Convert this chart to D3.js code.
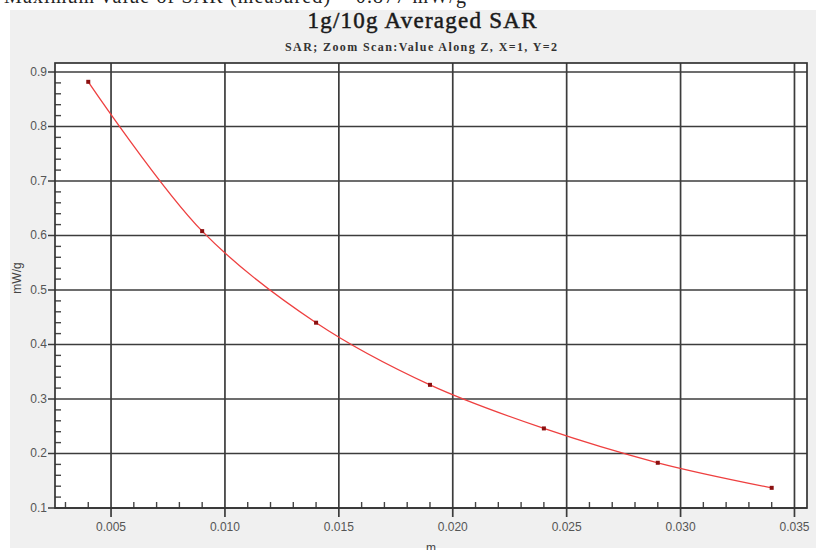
<!DOCTYPE html>
<html>
<head>
<meta charset="utf-8">
<script src="https://cdn.jsdelivr.net/npm/d3@7"></script>
<style>
  html, body { margin: 0; padding: 0; background: #fff; }
  svg { display: block; }
</style>
</head>
<body>
<div id="chart"></div>
<script>
// measured SAR along Z
var depth = [0.004, 0.009, 0.014, 0.019, 0.024, 0.029, 0.034];
var sar = [0.882, 0.608, 0.440, 0.326, 0.246, 0.183, 0.137];
var xTicks = [0.005, 0.010, 0.015, 0.020, 0.025, 0.030, 0.035];
var yTicks = [0.1, 0.2, 0.3, 0.4, 0.5, 0.6, 0.7, 0.8, 0.9];

var width = 822, height = 550;
var margin = {top: 63, right: 15, bottom: 42, left: 55};

var svg = d3.select('#chart').append('svg')
  .attr('width', width)
  .attr('height', height);

// grey panel
svg.append('rect')
  .attr('x', 10).attr('y', 10)
  .attr('width', 806).attr('height', 538)
  .attr('fill', '#f0f0f0');

// header text, cut off at the top
svg.append('text')
  .attr('x', 4).attr('y', 3)
  .attr('font-family', 'Liberation Serif, Times New Roman, serif')
  .attr('font-size', 20)
  .attr('fill', '#222')
  .attr('textLength', 462)
  .text('Maximum value of SAR (measured) = 0.877 mW/g');

var xScale = d3.scaleLinear().domain([0.00254, 0.03555]).range([margin.left, width - margin.right]),
  yScale = d3.scaleLinear().domain([0.1, 0.9165]).range([height - margin.bottom, margin.top]);

var x0 = margin.left, x1 = width - margin.right,
  y0 = height - margin.bottom, y1 = margin.top;

svg.append('rect')
  .attr('x', x0).attr('y', y1)
  .attr('width', x1 - x0).attr('height', y0 - y1)
  .attr('fill', '#fff');

// title
svg.append('text')
  .attr('x', 422).attr('y', 28)
  .attr('text-anchor', 'middle')
  .attr('font-family', 'Liberation Serif, Times New Roman, serif')
  .attr('font-size', 23)
  .attr('fill', '#1a1a1a')
  .attr('stroke', '#1a1a1a')
  .attr('stroke-width', 0.5)
  .attr('textLength', 229)
  .text('1g/10g Averaged SAR');

svg.append('text')
  .attr('x', 421).attr('y', 51)
  .attr('text-anchor', 'middle')
  .attr('font-family', 'Liberation Serif, Times New Roman, serif')
  .attr('font-size', 12)
  .attr('font-weight', 'bold')
  .attr('fill', '#333')
  .attr('textLength', 272)
  .text('SAR; Zoom Scan:Value Along Z, X=1, Y=2');

var grid = svg.append('g').attr('stroke', '#3c3c3c').attr('stroke-width', 1.7);

grid.selectAll('.vg').data(xTicks).enter().append('line')
  .attr('x1', function(d){ return xScale(d); })
  .attr('x2', function(d){ return xScale(d); })
  .attr('y1', y1).attr('y2', y0 + 9);

grid.selectAll('.hg').data(yTicks).enter().append('line')
  .attr('y1', function(d){ return yScale(d); })
  .attr('y2', function(d){ return yScale(d); })
  .attr('x1', x0 - 7).attr('x2', x1);

// minor ticks
var xMinor = d3.range(3, 36).map(function(i){ return i / 1000; })
  .filter(function(d){ return Math.round(d * 1000) % 5 !== 0; });
var yMinor = d3.range(6, 46).map(function(i){ return i / 50; })
  .filter(function(d){ return Math.round(d * 50) % 5 !== 0; });

var minor = svg.append('g').attr('stroke', '#444').attr('stroke-width', 1.4);
minor.selectAll('.xm').data(xMinor).enter().append('line')
  .attr('x1', function(d){ return xScale(d); })
  .attr('x2', function(d){ return xScale(d); })
  .attr('y1', y0).attr('y2', y0 - 6);
minor.selectAll('.ym').data(yMinor).enter().append('line')
  .attr('y1', function(d){ return yScale(d); })
  .attr('y2', function(d){ return yScale(d); })
  .attr('x1', x0).attr('x2', x0 + 6);

// frame
svg.append('rect')
  .attr('x', x0).attr('y', y1)
  .attr('width', x1 - x0).attr('height', y0 - y1)
  .attr('fill', 'none')
  .attr('stroke', '#333')
  .attr('stroke-width', 1.7);

// tick labels
var labelFont = 'Arial, Liberation Sans, sans-serif';
svg.selectAll('.xl').data(xTicks).enter().append('text')
  .attr('x', function(d){ return xScale(d); })
  .attr('y', 531)
  .attr('text-anchor', 'middle')
  .attr('font-family', labelFont)
  .attr('font-size', 12)
  .attr('fill', '#555')
  .text(function(d){ return d3.format('.3f')(d); });

svg.selectAll('.yl').data(yTicks).enter().append('text')
  .attr('x', 47)
  .attr('y', function(d){ return yScale(d) + 4; })
  .attr('text-anchor', 'end')
  .attr('font-family', labelFont)
  .attr('font-size', 12)
  .attr('fill', '#555')
  .text(function(d){ return d3.format('.1f')(d); });

svg.append('text')
  .attr('x', (x0 + x1) / 2).attr('y', 552)
  .attr('text-anchor', 'middle')
  .attr('font-family', labelFont)
  .attr('font-size', 12)
  .attr('fill', '#444')
  .text('m');

svg.append('text')
  .attr('transform', 'translate(21,278) rotate(-90)')
  .attr('text-anchor', 'middle')
  .attr('font-family', labelFont)
  .attr('font-size', 12)
  .attr('fill', '#444')
  .text('mW/g');

// curve + points
var pts = depth.map(function(d, i){ return [d, sar[i]]; });
var line = d3.line()
  .x(function(d){ return xScale(d[0]); })
  .y(function(d){ return yScale(d[1]); })
  .curve(d3.curveCatmullRom);

svg.append('path')
  .attr('d', line(pts))
  .attr('fill', 'none')
  .attr('stroke', '#ee4040')
  .attr('stroke-width', 1.3);

svg.selectAll('.pt').data(pts).enter().append('rect')
  .attr('x', function(d){ return xScale(d[0]) - 2; })
  .attr('y', function(d){ return yScale(d[1]) - 2; })
  .attr('width', 4).attr('height', 4)
  .attr('fill', '#8b1010');
</script>
</body>
</html>
